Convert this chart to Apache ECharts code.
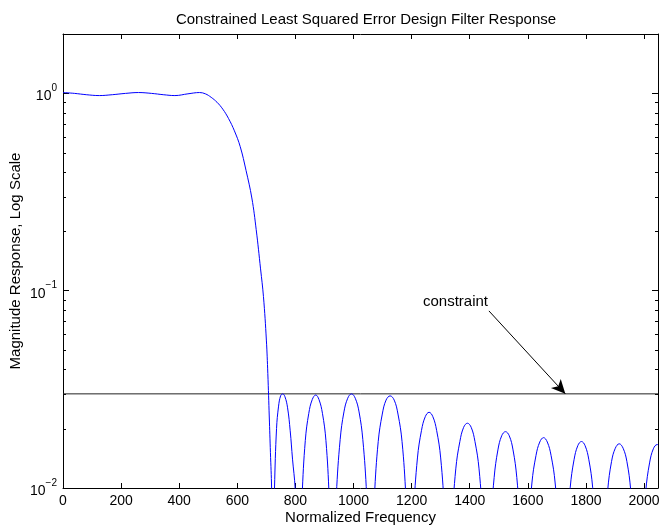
<!DOCTYPE html>
<html><head><meta charset="utf-8">
<script src="https://cdn.jsdelivr.net/npm/echarts@6/dist/echarts.min.js"></script>
<style>html,body{margin:0;padding:0;background:#fff}#c{width:659px;height:527px}</style>
</head><body><div id="c"></div>
<script>
// ---- data ----
const titleText = 'Constrained Least Squared Error Design Filter Response';
const xName = 'Normalized Frequency';
const yName = 'Magnitude Response, Log Scale';
const xMin = 0, xMax = 2048, xStep = 200;
const yMin = 0.01, yMax = 2;
const yMinorTicks = [0.02,0.03,0.04,0.05,0.06,0.07,0.08,0.09,0.2,0.3,0.4,0.5,0.6,0.7,0.8,0.9,2];
const constraintLevel = 0.03;
const annotationText = 'constraint';
const annotationTextAt = [1239, 0.0875];
const arrowFrom = [1466, 0.079];
const arrowTo = [1729, 0.03];

// passband + transition
const passFreq = [0,40,80,125,170,215,260,305,345,385,430,470,490,510,530,550,570,590,610,630,650,665,680,690,700,705,710,714,718,720];
const passMag  = [1.010,1.000,0.985,0.975,0.985,1.000,1.010,1.000,0.985,0.975,0.995,1.010,0.995,0.955,0.902,0.832,0.745,0.646,0.537,0.407,0.295,0.204,0.129,0.0933,0.0562,0.0380,0.0229,0.0151,0.0100,0.005];
// stopband lobes
const stopFreq = [
 722,725,728,735,742,749,756,764,773,782,790,799,805,
 811,817,823,834,846,858,870,881,893,905,916,922,
 928,934.5,941,954,967,980,993,1006,1019,1032,1045,1051.5,
 1058,1065,1072,1085,1099,1112,1126,1140,1153,1167,1180,1187,
 1194,1200.6,1207,1220,1234,1247,1260,1273,1286,1300,1313,1319.4,
 1326,1332.6,1339,1352,1366,1379,1392,1405,1418,1432,1445,1451.4,
 1458,1464.5,1471,1484,1497,1510,1523,1536,1549,1562,1575,1581.5,
 1588,1594.6,1601,1614,1628,1641,1654,1667,1680,1694,1707,1713.4,
 1720,1726.5,1733,1746,1759,1772,1784.5,1797,1810,1823,1836,1842.6,
 1849,1855.6,1862,1875,1888,1901,1914.5,1928,1941,1954,1967,1973.5,
 1980,1986.5,1993,2006,2019,2032,2045,2048
];
const stopMag = [
 0.001,0.0055,0.010,0.020,0.026,0.0293,0.0300,0.0290,0.0255,0.0195,0.0140,0.0100,0.0055,
 0.001,0.0046,0.0091,0.0174,0.0239,0.0281,0.0296,0.0281,0.0239,0.0174,0.0091,0.0046,
 0.001,0.0047,0.0093,0.0176,0.0243,0.0285,0.0300,0.0285,0.0243,0.0176,0.0093,0.0047,
 0.001,0.0046,0.0091,0.0172,0.0237,0.0279,0.0293,0.0279,0.0237,0.0172,0.0091,0.0046,
 0.001,0.0038,0.0075,0.0142,0.0196,0.0230,0.0242,0.0230,0.0196,0.0142,0.0075,0.0038,
 0.001,0.0033,0.0066,0.0125,0.0172,0.0203,0.0213,0.0203,0.0172,0.0125,0.0066,0.0033,
 0.001,0.0030,0.0060,0.0113,0.0156,0.0184,0.0193,0.0184,0.0156,0.0113,0.0060,0.0030,
 0.001,0.0028,0.0056,0.0106,0.0146,0.0171,0.0180,0.0171,0.0146,0.0106,0.0056,0.0028,
 0.001,0.0027,0.0053,0.0101,0.0139,0.0164,0.0172,0.0164,0.0139,0.0101,0.0053,0.0027,
 0.001,0.0026,0.0052,0.0098,0.0136,0.0159,0.01675,0.0159,0.0136,0.0098,0.0052,0.0026,
 0.001,0.0026,0.0051,0.0097,0.0134,0.0158,0.0166,0.0166
];

// ---- build ----
const FONT = 'Liberation Sans, Arial, Helvetica, sans-serif';
const respData = passFreq.map((f,i)=>[f,passMag[i]]).concat(stopFreq.map((f,i)=>[f,stopMag[i]]));

function yFmt(v){
  const l = Math.log10(v), e = Math.round(l);
  if (Math.abs(l-e) > 1e-6) return '';
  return '{b|10}{s|' + (e<0 ? '\u2212'+(-e) : e) + '}';
}

const chart = echarts.init(document.getElementById('c'), null, {renderer:'canvas'});
const axisCommon = {
  axisLine:{show:true,onZero:false,lineStyle:{color:'#000',width:1}},
  splitLine:{show:false}
};
chart.setOption({
  animation:false,
  backgroundColor:'#fff',
  title:{text:titleText,left:361,top:7,textAlign:'center',
    textStyle:{fontFamily:FONT,fontSize:15,fontWeight:'normal',color:'#000'}},
  grid:{left:63,right:1,top:34,bottom:39,containLabel:false,outerBoundsMode:'none'},
  xAxis:[
    Object.assign({type:'value',min:xMin,max:xMax,interval:xStep,position:'bottom',
      name:xName,nameLocation:'middle',nameGap:22,nameMoveOverlap:false,
      nameTextStyle:{fontFamily:FONT,fontSize:15,color:'#000'},
      axisTick:{show:true,inside:true,length:5,lineStyle:{color:'#000'}},
      axisLabel:{show:true,showMaxLabel:false,hideOverlap:false,margin:6,fontFamily:FONT,fontSize:14,color:'#000',
        formatter:function(v){return String(v);}}},axisCommon),
    Object.assign({type:'value',min:xMin,max:xMax,interval:xStep,position:'top',
      axisTick:{show:true,inside:true,length:5,lineStyle:{color:'#000'}},
      axisLabel:{show:false}},axisCommon)
  ],
  yAxis:[
    Object.assign({type:'log',logBase:10,min:yMin,max:yMax,position:'left',
      name:yName,nameLocation:'middle',nameGap:40,nameRotate:90,nameMoveOverlap:false,
      nameTextStyle:{fontFamily:FONT,fontSize:15,color:'#000'},
      axisTick:{show:true,inside:true,length:6,lineStyle:{color:'#000'}},
      axisLabel:{show:true,margin:6,formatter:yFmt,
        rich:{b:{fontFamily:FONT,fontSize:14,color:'#000',verticalAlign:'bottom',lineHeight:20},
              s:{fontFamily:FONT,fontSize:10,color:'#000',verticalAlign:'top',lineHeight:20}}}},axisCommon),
    Object.assign({type:'log',logBase:10,min:yMin,max:yMax,position:'right',
      axisTick:{show:true,inside:true,length:6,lineStyle:{color:'#000'}},
      axisLabel:{show:false}},axisCommon)
  ],
  series:[
    {type:'custom',xAxisIndex:0,yAxisIndex:0,silent:true,
     data:yMinorTicks.map(v=>[0,v]),
     renderItem:function(params,api){
       const y = Math.round(api.coord([0,api.value(1)])[1])+0.5;
       const cs = params.coordSys;
       return {type:'group',children:[
         {type:'line',shape:{x1:cs.x,y1:y,x2:cs.x+3,y2:y},style:{stroke:'#000',lineWidth:1}},
         {type:'line',shape:{x1:cs.x+cs.width-3,y1:y,x2:cs.x+cs.width,y2:y},style:{stroke:'#000',lineWidth:1}}
       ]};
     }},
    {type:'line',name:'constraint',data:[[xMin,constraintLevel],[xMax,constraintLevel]],
     showSymbol:false,symbol:'none',lineStyle:{color:'#222',width:1},silent:true,
     markLine:{silent:true,animation:false,symbol:['none','arrow'],symbolSize:[10,14],
       lineStyle:{color:'#000',width:1,type:'solid'},label:{show:false},
       data:[[{coord:arrowFrom},{coord:arrowTo}]]},
     markPoint:{silent:true,symbol:'circle',symbolSize:0,
       data:[{coord:annotationTextAt,value:0}],
       label:{show:true,position:'right',distance:0,formatter:annotationText,
         fontFamily:FONT,fontSize:15,color:'#000'}}
    },
    {type:'line',name:'response',data:respData,showSymbol:false,symbol:'none',clip:true,
     smooth:0.4,
     lineStyle:{color:'#0000ff',width:1},silent:true}
  ]
});
</script>
</body></html>
